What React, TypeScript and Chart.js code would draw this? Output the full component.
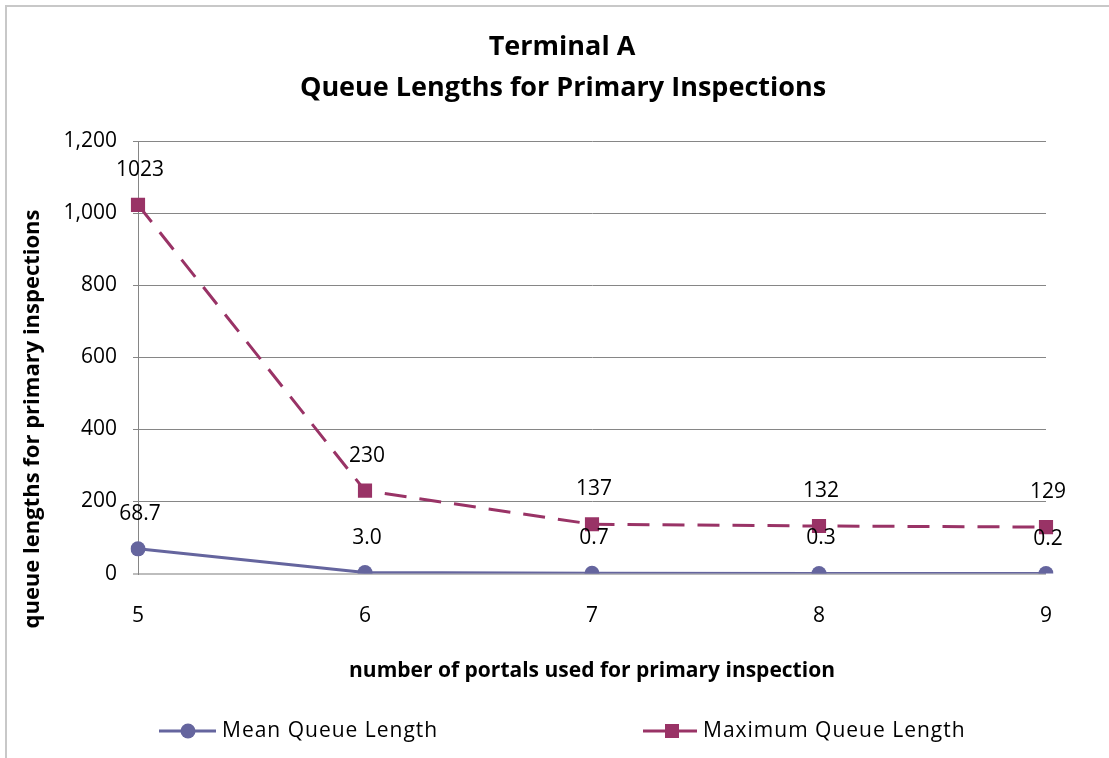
import React, { useEffect, useRef } from "react";
import { Chart, registerables } from "chart.js";

Chart.register(...registerables);

const categories = ["5", "6", "7", "8", "9"];
const meanQueue = [68.7, 3.0, 0.7, 0.3, 0.2];
const maxQueue = [1023, 230, 137, 132, 129];
const meanLabels = ["68.7", "3.0", "0.7", "0.3", "0.2"];
const maxLabels = ["1023", "230", "137", "132", "129"];
const titleLines = ["Terminal A", "Queue Lengths for Primary Inspections"];
const seriesNames = ["Mean Queue Length", "Maximum Queue Length"];
const yTitle = "queue lengths for primary inspections";
const xTitle = "number of portals used for primary inspection";

const FONT = "'Open Sans', Lato, sans-serif";
const MEAN_COLOR = "#65659e";
const MAX_COLOR = "#993366";

const labelPlugin = {
  id: "pointLabels",
  afterDatasetsDraw(chart: any) {
    const ctx = chart.ctx;
    ctx.save();
    ctx.font = `21px ${FONT}`;
    ctx.fillStyle = "#000";
    ctx.textAlign = "center";
    ctx.textBaseline = "middle";
    const sets = [meanLabels, maxLabels];
    chart.data.datasets.forEach((ds: any, i: number) => {
      const meta = chart.getDatasetMeta(i);
      meta.data.forEach((pt: any, j: number) => {
        ctx.fillText(sets[i][j], pt.x + 2, pt.y - 35);
      });
    });
    ctx.restore();
  },
};

const textPlugin = {
  id: "customText",
  afterDraw(chart: any) {
    const ctx = chart.ctx;
    ctx.save();
    // title
    ctx.fillStyle = "#000";
    ctx.textAlign = "center";
    ctx.textBaseline = "middle";
    ctx.font = `bold 27px ${FONT}`;
    ctx.fillText(titleLines[0], 562, 47);
    ctx.fillText(titleLines[1], 563, 88);
    // y title
    ctx.save();
    ctx.translate(33, 419);
    ctx.rotate(-Math.PI / 2);
    ctx.font = `bold 22px ${FONT}`;
    ctx.fillText(yTitle, 0, 0);
    ctx.restore();

    // legend
    const y = 731;
    ctx.textAlign = "left";
    ctx.font = `21px ${FONT}`;
    (ctx as any).letterSpacing = "1px";
    ctx.strokeStyle = MEAN_COLOR;
    ctx.lineWidth = 3;
    ctx.beginPath();
    ctx.moveTo(159, y);
    ctx.lineTo(216, y);
    ctx.stroke();
    ctx.fillStyle = MEAN_COLOR;
    ctx.beginPath();
    ctx.arc(188, y, 7.5, 0, Math.PI * 2);
    ctx.fill();
    ctx.fillStyle = "#000";
    ctx.fillText(seriesNames[0], 222, y);
    ctx.strokeStyle = MAX_COLOR;
    ctx.beginPath();
    ctx.moveTo(643, y);
    ctx.lineTo(697, y);
    ctx.stroke();
    ctx.fillStyle = MAX_COLOR;
    ctx.fillRect(665, y - 7, 14, 14);
    ctx.fillStyle = "#000";
    ctx.fillText(seriesNames[1], 703, y);
    ctx.restore();
  },
};

export default function App() {
  const ref = useRef<HTMLCanvasElement | null>(null);
  useEffect(() => {
    if (!ref.current) return;
    const chart = new Chart(ref.current, {
      type: "line",
      data: {
        labels: categories,
        datasets: [
          {
            label: seriesNames[0],
            data: meanQueue,
            borderColor: MEAN_COLOR,
            backgroundColor: MEAN_COLOR,
            borderWidth: 3,
            pointStyle: "circle",
            pointRadius: 7.5,
            pointBorderWidth: 0,
            tension: 0,
          },
          {
            label: seriesNames[1],
            data: maxQueue,
            borderColor: MAX_COLOR,
            backgroundColor: MAX_COLOR,
            borderWidth: 3,
            borderDash: [22, 13],
            pointStyle: "rect",
            pointRadius: 10,
            pointBorderWidth: 0,
            tension: 0,
          },
        ],
      },
      options: {
        responsive: false,
        animation: false,
        layout: { padding: { left: 0, right: 63, top: 141, bottom: 68 } },
        plugins: {
          legend: { display: false },
          tooltip: { enabled: false },
          title: { display: false },
        },
        scales: {
          x: {
            offset: false,
            grid: { display: false, drawTicks: false },
            border: { display: false },
            ticks: { color: "#000", font: { family: FONT, size: 21 }, padding: 30 },
            title: {
              display: true,
              text: xTitle,
              color: "#000",
              font: { family: FONT, size: 21, weight: "bold" },
              padding: { top: 0, bottom: 6 },
            },
          },
          y: {
            min: 0,
            max: 1200,
            afterFit: (s: any) => {
              s.width = 138;
            },
            grid: {
              color: (c: any) => (c.tick && c.tick.value === 0 ? "#bdbdbd" : "#868686"),
              lineWidth: (c: any) => (c.tick && c.tick.value === 0 ? 2 : 1),
              tickLength: 5,
            },
            border: { display: true, color: "#868686" },
            ticks: {
              stepSize: 200,
              color: "#000",
              font: { family: FONT, size: 21 },
              padding: 16,
              callback: (v: any) => Number(v).toLocaleString("en-US"),
            },
          },
        },
      },
      plugins: [labelPlugin, textPlugin],
    });
    return () => chart.destroy();
  }, []);
  return (
    <div style={{ position: "absolute", left: 0, top: 0, width: 1109, height: 758, background: "#fff" }}>
      <div
        style={{
          position: "absolute",
          left: 5,
          top: 5,
          width: 1104,
          height: 753,
          borderLeft: "2px solid #c8c8c8",
          borderTop: "2px solid #c8c8c8",
          boxSizing: "border-box",
        }}
      />
      <canvas ref={ref} width={1109} height={758} style={{ position: "absolute", left: 0, top: 0 }} />
    </div>
  );
}
